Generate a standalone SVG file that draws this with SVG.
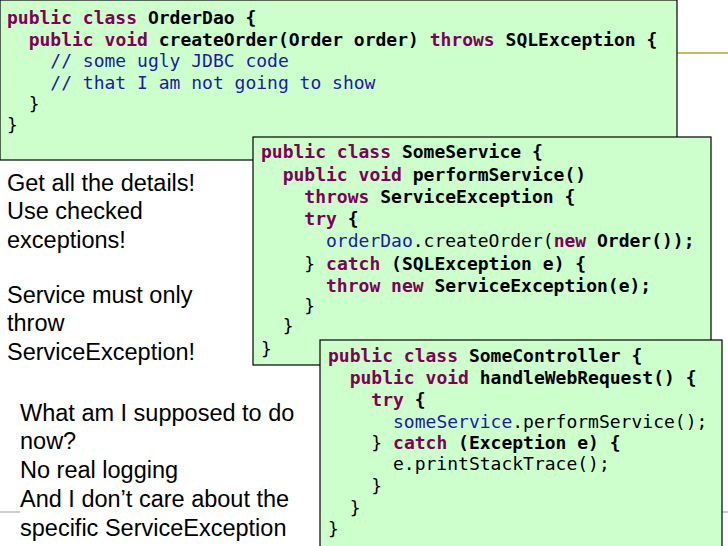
<svg xmlns="http://www.w3.org/2000/svg" width="728" height="546" viewBox="0 0 728 546">
<style>
.box{fill:#ccffcc;stroke:#000;stroke-width:1.2}
.c{font-family:"DejaVu Sans Mono",monospace;font-size:18px;fill:#000;white-space:pre}
.b{font-weight:bold}
.k{fill:#7f0055;font-weight:bold}
.bl{fill:#1a1aa6;font-weight:normal}
.n{font-weight:normal}
.t{font-family:"Liberation Sans",Arial,sans-serif;font-size:23.5px;fill:#000}
</style>
<rect width="728" height="546" fill="#fff"/>
<line x1="0" y1="512" x2="20" y2="512" stroke="#999"/>
<line x1="722" y1="512" x2="728" y2="512" stroke="#999"/>
<line x1="677" y1="53" x2="728" y2="53" stroke="#c8b860" stroke-width="2"/>
<g id="orderdao">
<rect class="box" x="0" y="0" width="677" height="160"/>
<text class="c b" x="7" y="24" xml:space="preserve"><tspan class="k">public class</tspan> OrderDao {</text>
<text class="c b" x="7" y="46" xml:space="preserve">  <tspan class="k">public void</tspan> createOrder(Order order) <tspan class="k">throws</tspan> SQLException {</text>
<text class="c bl" x="7" y="67" xml:space="preserve">    // some ugly JDBC code</text>
<text class="c bl" x="7" y="89" xml:space="preserve">    // that I am not going to show</text>
<text class="c n" x="7" y="110" xml:space="preserve">  }</text>
<text class="c n" x="7" y="131" xml:space="preserve">}</text>
</g>
<g id="someservice">
<rect class="box" x="253" y="137" width="458" height="228"/>
<text class="c b" x="261" y="158" xml:space="preserve"><tspan class="k">public class</tspan> SomeService {</text>
<text class="c b" x="261" y="181" xml:space="preserve">  <tspan class="k">public void</tspan> performService()</text>
<text class="c b" x="261" y="203" xml:space="preserve">    <tspan class="k">throws</tspan> ServiceException {</text>
<text class="c b" x="261" y="225" xml:space="preserve">    <tspan class="k">try</tspan> {</text>
<text class="c n" x="261" y="247" xml:space="preserve">      <tspan class="bl">orderDao</tspan>.createOrder(<tspan class="k">new</tspan> <tspan class="b">Order());</tspan></text>
<text class="c b" x="261" y="270" xml:space="preserve">    <tspan class="n">}</tspan> <tspan class="k">catch</tspan> (SQLException e) {</text>
<text class="c b" x="261" y="292" xml:space="preserve">      <tspan class="k">throw new</tspan> ServiceException(e);</text>
<text class="c n" x="261" y="312" xml:space="preserve">    }</text>
<text class="c n" x="261" y="332" xml:space="preserve">  }</text>
<text class="c n" x="261" y="355" xml:space="preserve">}</text>
</g>
<g id="somecontroller">
<rect class="box" x="320" y="340" width="402" height="210"/>
<text class="c b" x="328" y="362" xml:space="preserve"><tspan class="k">public class</tspan> SomeController {</text>
<text class="c b" x="328" y="384" xml:space="preserve">  <tspan class="k">public void</tspan> handleWebRequest() {</text>
<text class="c b" x="328" y="406" xml:space="preserve">    <tspan class="k">try</tspan> {</text>
<text class="c n" x="328" y="428" xml:space="preserve">      <tspan class="bl">someService</tspan>.performService();</text>
<text class="c b" x="328" y="449" xml:space="preserve">    <tspan class="n">}</tspan> <tspan class="k">catch</tspan> (Exception e) {</text>
<text class="c n" x="328" y="470" xml:space="preserve">      e.printStackTrace();</text>
<text class="c n" x="328" y="492" xml:space="preserve">    }</text>
<text class="c n" x="328" y="514" xml:space="preserve">  }</text>
<text class="c n" x="328" y="535" xml:space="preserve">}</text>
</g>
<g id="notes1">
<text class="t" x="7" y="191">Get all the details!</text>
<text class="t" x="7" y="219">Use checked</text>
<text class="t" x="7" y="248">exceptions!</text>
<text class="t" x="7" y="303">Service must only</text>
<text class="t" x="7" y="331">throw</text>
<text class="t" x="7" y="360">ServiceException!</text>
</g>
<g id="notes2">
<text class="t" x="20" y="421">What am I supposed to do</text>
<text class="t" x="20" y="449">now?</text>
<text class="t" x="20" y="478">No real logging</text>
<text class="t" x="20" y="507">And I don’t care about the</text>
<text class="t" x="20" y="536">specific ServiceException</text>
</g>
</svg>
